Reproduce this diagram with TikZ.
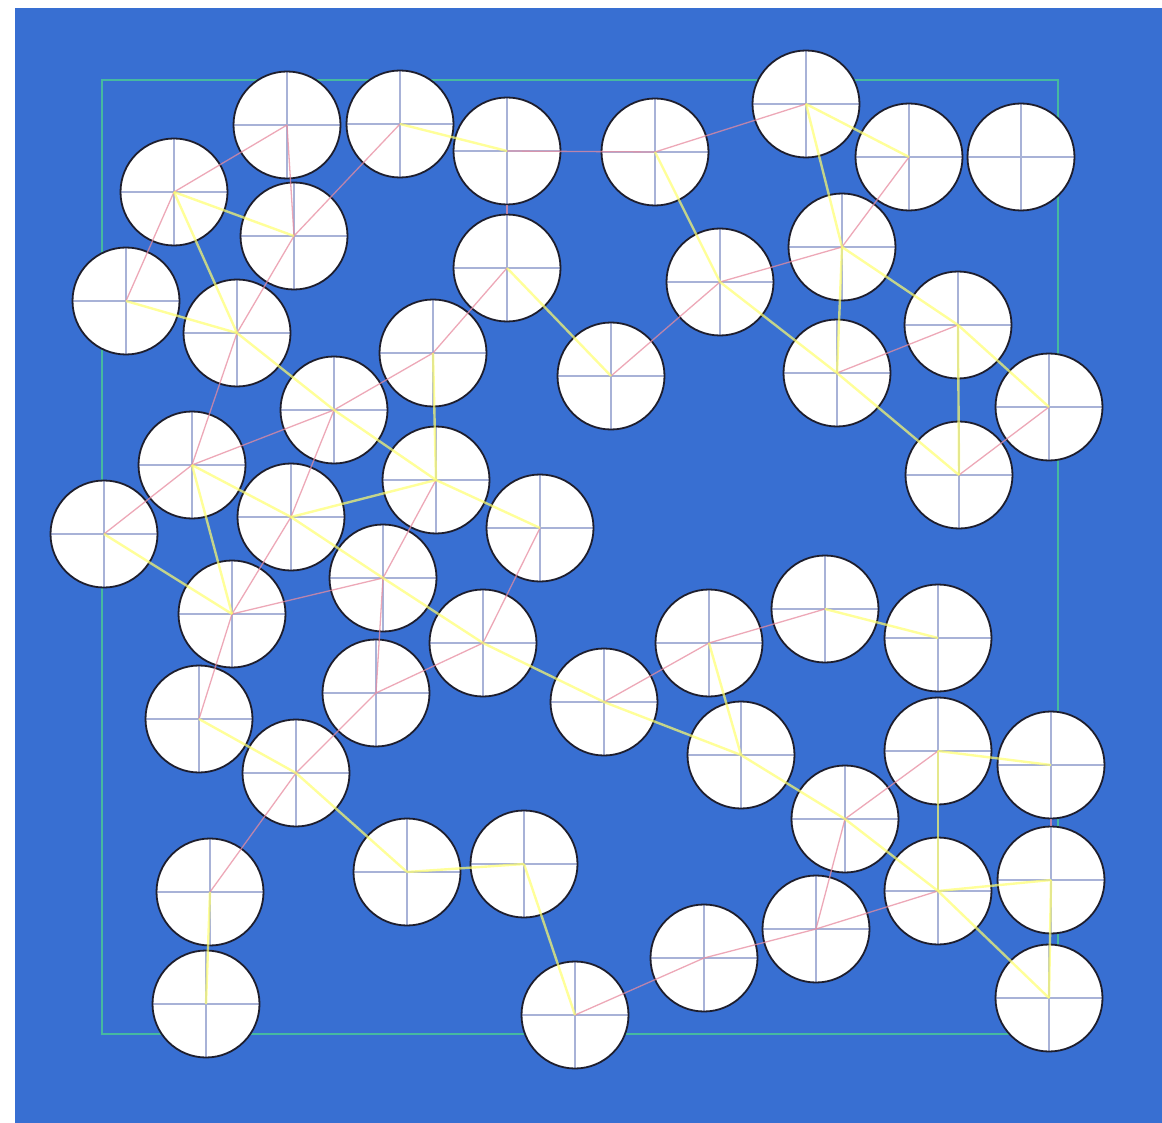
\documentclass[tikz,border=0pt]{standalone}
\definecolor{bgblue}{RGB}{56,111,210}
\definecolor{framec}{RGB}{70,185,160}
\definecolor{rimc}{RGB}{30,30,45}
\definecolor{crossc}{RGB}{168,178,215}
\definecolor{redc}{RGB}{232,140,160}
\definecolor{yelc}{RGB}{255,255,110}
\tikzset{
  disk/.style={circle, draw=rimc, line width=1.8pt, fill=white, minimum size=107pt, inner sep=0pt,
    path picture={\draw[crossc, line width=2.8pt]
      (path picture bounding box.north) -- (path picture bounding box.south)
      (path picture bounding box.west) -- (path picture bounding box.east);}},
  redge/.style={draw=redc, line width=1.3pt, opacity=0.75},
  yedge/.style={draw=yelc, line width=2.4pt, opacity=0.7},
}
\begin{document}
\begin{tikzpicture}[x=1pt,y=-1pt]
\useasboundingbox (0,0) rectangle (1162,1123);
\fill[white] (0,0) rectangle (1162,1123);
\fill[bgblue] (15,8) rectangle (1162,1123);
\draw[framec, line width=2.8pt] (102,80) rectangle (1058,1034);
\foreach \n/\x/\y in {
 1/287/125, 2/400/124, 3/507/151, 4/655/152, 5/806/104, 6/909/157, 7/1021/157,
 8/174/192, 9/294/236, 10/507/268, 11/720/282, 12/842/247, 13/126/301, 14/237/333,
 15/433/353, 16/611/376, 17/837/373, 18/958/325, 19/1049/407, 20/334/410, 21/192/465,
 22/436/480, 23/959/475, 24/104/534, 25/291/517, 26/540/528, 27/383/578, 28/232/614,
 29/483/643, 30/709/643, 31/825/609, 32/938/638, 33/376/693, 34/199/719, 35/604/702,
 36/741/755, 37/938/751, 38/1051/765, 39/296/773, 40/845/819, 41/407/872, 42/524/864,
 43/210/892, 44/938/891, 45/1051/880, 46/816/929, 47/704/958, 48/206/1004, 49/575/1015,
 50/1049/998}
 { \node[disk] (c\n) at (\x,\y) {}; }
% red (pink) connectors
\foreach \a/\b in {8/1, 1/9, 2/9, 9/14, 8/13, 14/21, 21/20, 20/15, 15/10, 24/21, 20/25,
  22/27, 26/29, 3/4, 4/5, 6/12, 12/11, 11/16, 17/18, 23/19, 28/27, 28/34, 28/25,
  27/33, 33/29, 33/39, 39/43, 35/30, 30/31, 37/40, 40/46, 44/46, 46/47, 47/49}
 { \draw[redge] (c\a.center) -- (c\b.center); }
\draw[redge, line width=2pt] (c3.south) -- (c10.north);
\draw[redge, line width=2pt] (c38.south) -- (c45.north);
% yellow connectors
\foreach \a/\b in {2/3, 8/9, 8/14, 13/14, 14/20, 20/22, 15/22, 10/16, 21/25, 25/22, 22/26,
  24/28, 21/28, 25/27, 4/11, 5/6, 5/12, 12/17, 11/17, 12/18, 18/19, 18/23, 17/23,
  34/39, 39/41, 41/42, 42/49, 43/48, 29/35, 27/29, 35/36, 30/36, 31/32, 36/40, 40/44,
  37/38, 37/44, 44/45, 44/50, 45/50}
 { \draw[yedge] (c\a.center) -- (c\b.center); }
\end{tikzpicture}
\end{document}
